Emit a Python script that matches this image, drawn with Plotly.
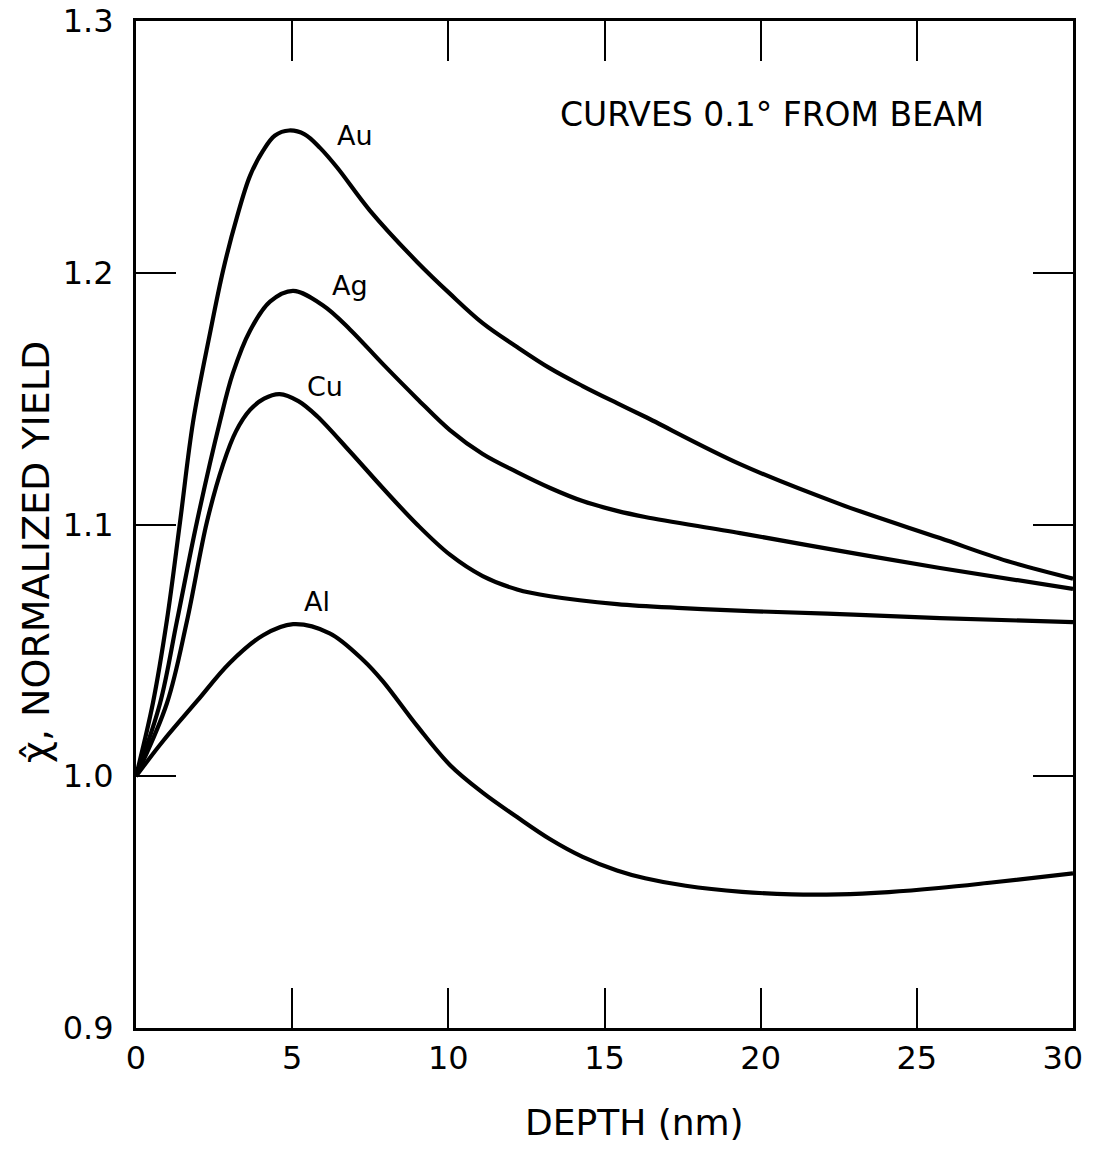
import plotly.graph_objects as go

# ---- data ----
au_depth = [0, 0.54, 0.99, 1.41, 1.83, 2.37, 2.79, 3.23, 3.65, 4.07, 4.45, 4.9, 5.4, 5.9, 6.44,
            7.49, 9.0, 10.05, 11.1, 12.2, 13.26, 14.3, 15.4, 16.3, 19.34, 22.54, 25.74, 27.89, 30]
au_yield = [1.0, 1.029, 1.062, 1.101, 1.141, 1.176, 1.201, 1.222, 1.2385, 1.2485, 1.2545, 1.2565,
            1.2550, 1.2495, 1.2418, 1.2247, 1.2043, 1.1917, 1.1800, 1.1705, 1.1620, 1.1550, 1.1482,
            1.1428, 1.124, 1.1081, 1.0946, 1.0855, 1.0785]

ag_depth = [0, 0.77, 1.31, 1.95, 2.69, 3.1, 3.65, 4.29, 5.03, 5.99, 6.85, 7.9, 9.0, 10.05, 11.1,
            12.2, 13.26, 14.3, 15.4, 16.3, 19.34, 22.54, 25.74, 30]
ag_yield = [1.0, 1.029, 1.0616, 1.101, 1.141, 1.160, 1.177, 1.1885, 1.1928, 1.187, 1.1775, 1.1638,
            1.150, 1.1375, 1.128, 1.1208, 1.1145, 1.1093, 1.1054, 1.103, 1.0966, 1.0895, 1.0827, 1.0744]

cu_depth = [0, 0.99, 1.63, 2.27, 2.79, 3.2, 3.65, 4.1, 4.6, 5.2, 5.8, 6.85, 7.9, 9.0, 10.05, 11.1,
            12.2, 13.26, 15.4, 17.5, 19.66, 22.54, 25.74, 30]
cu_yield = [1.0, 1.029, 1.0616, 1.101, 1.124, 1.137, 1.1455, 1.150, 1.1518, 1.149, 1.143, 1.129,
            1.1145, 1.100, 1.088, 1.0795, 1.0742, 1.0715, 1.0684, 1.0668, 1.0656, 1.0644, 1.0628, 1.0612]

al_depth = [0, 0.86, 1.95, 3.0, 4.07, 5.03, 6.2, 7.27, 7.9, 9.0, 10.05, 11.1, 12.2, 13.26, 14.3,
            15.4, 16.3, 17.6, 19.4, 21.0, 22.5, 24.1, 25.7, 27.4, 30]
al_yield = [1.0, 1.0139, 1.0298, 1.0450, 1.0560, 1.0604, 1.0568, 1.0462, 1.0378, 1.0200, 1.0045,
            0.9935, 0.9838, 0.9750, 0.9680, 0.9626, 0.9595, 0.9565, 0.9541, 0.9531, 0.9531, 0.9540,
            0.9556, 0.9578, 0.9614]

series_names = ["Au", "Ag", "Cu", "Al"]
label_depth = [7.0, 6.85, 6.05, 5.8]
label_yield = [1.2545, 1.1948, 1.155, 1.0696]

x_ticks = [0, 5, 10, 15, 20, 25, 30]
x_tick_text = ["0", "5", "10", "15", "20", "25", "30\u00a0\u00a0"]
y_ticks = [0.9, 1.0, 1.1, 1.2, 1.3]
y_tick_text = ["0.9", "1.0", "1.1", "1.2", "1.3"]

FONT = "DejaVu Sans"

fig = go.Figure()
for name, xs, ys in zip(series_names,
                        [au_depth, ag_depth, cu_depth, al_depth],
                        [au_yield, ag_yield, cu_yield, al_yield]):
    fig.add_trace(go.Scatter(x=xs, y=ys, mode="lines", name=name,
                             line=dict(color="black", width=4.2, shape="spline", smoothing=1.0),
                             showlegend=False))

for name, lx, ly in zip(series_names, label_depth, label_yield):
    fig.add_annotation(x=lx, y=ly, text=name, showarrow=False,
                       font=dict(family=FONT, size=27, color="black"),
                       xanchor="center", yanchor="middle")

fig.add_annotation(x=0.679, y=0.9067, xref="paper", yref="paper",
                   text="CURVES 0.1° FROM BEAM", showarrow=False,
                   font=dict(family=FONT, size=33, color="black"),
                   xanchor="center", yanchor="middle")

# axis titles as annotations (placed as in the reference)
fig.add_annotation(x=0.5325, y=-0.0935, xref="paper", yref="paper",
                   text="DEPTH (nm)", showarrow=False,
                   font=dict(family=FONT, size=36, color="black"),
                   xanchor="center", yanchor="middle")
fig.add_annotation(x=-0.1067, y=0.4727, xref="paper", yref="paper",
                   text="χ̂, NORMALIZED YIELD", showarrow=False, textangle=-90,
                   font=dict(family=FONT, size=38, color="black"),
                   xanchor="center", yanchor="middle")

axis_common = dict(showgrid=False, zeroline=False, showline=True, linecolor="black",
                   linewidth=3, mirror="ticks", ticks="inside", ticklen=40,
                   tickwidth=2, tickcolor="black", automargin=False,
                   ticklabeloverflow="allow",
                   tickfont=dict(family=FONT, size=32, color="black"))

fig.update_xaxes(range=[0, 30], tickvals=x_ticks, ticktext=x_tick_text, **axis_common)
fig.update_yaxes(range=[0.9, 1.3], tickvals=y_ticks, ticktext=y_tick_text, ticklabelstandoff=13,
                 **axis_common)

# page body adds ~8px margin; size/margins compensate so the plot area lands where the reference has it
fig.update_layout(width=1079, height=1135, plot_bgcolor="white", paper_bgcolor="white",
                  margin=dict(l=128, r=14, t=13, b=115))

fig.write_html("out.html")
